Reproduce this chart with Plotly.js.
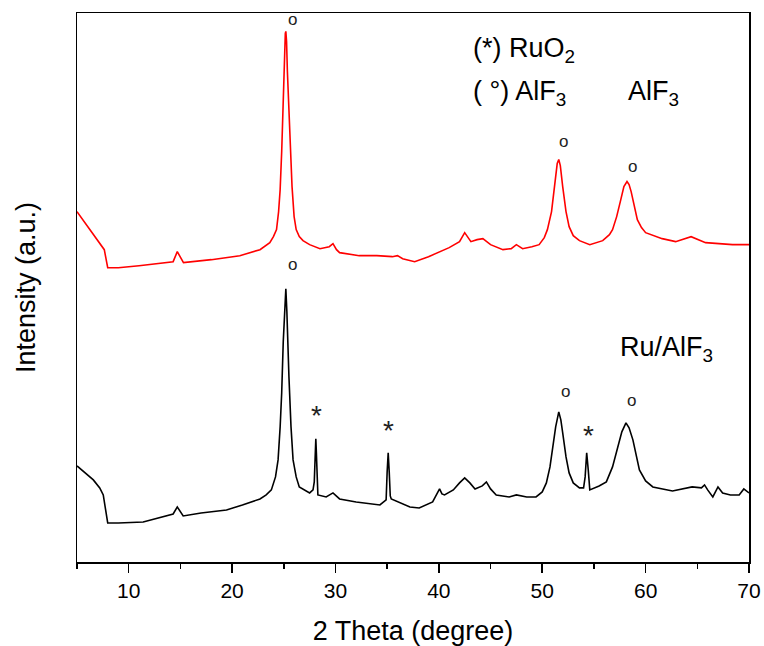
<!DOCTYPE html>
<html>
<head>
<meta charset="utf-8">
<script src="https://cdn.plot.ly/plotly-3.0.1.min.js"></script>
<style>html,body{margin:0;padding:0;background:#fff;}#chart{width:764px;height:646px;}</style>
</head>
<body>
<div id="chart"></div>
<script>
// 2θ (degree) and intensity (a.u.)
const alf3X = [5.0,6.0,7.0,7.64,7.97,9.0,11.0,13.0,14.3,14.7,15.3,18.0,20.75,22.7,23.65,24.0,24.3,24.5,24.65,24.8,24.93,25.05,25.15,25.2,25.27,25.35,25.45,25.6,25.8,26.0,26.2,26.5,26.86,27.5,28.5,29.4,29.76,30.1,30.4,32.3,34.0,35.5,36.0,36.5,37.66,39.0,41.0,42.0,42.5,43.1,43.7,44.26,45.0,46.2,47.0,47.5,48.1,49.0,49.7,50.2,50.5,50.9,51.2,51.45,51.6,51.75,51.98,52.3,52.6,53.0,53.6,54.6,55.85,56.5,56.8,57.2,57.6,57.9,58.2,58.4,58.6,58.9,59.2,59.6,60.0,61.6,62.9,64.4,65.8,68.4,70.0];
const alf3Y = [350,336,321,312,294,294,296,298,300,310,299,302,306,312,319,325,332,350,372,410,462,505,528,530,520,490,462,415,375,345,332,325,321,317,313,315,318,312,309,306,306,305,306,303,300,305,314,320,329,320,322,323,317,312,313,317,313,315,317,324,332,350,375,398,402,396,375,350,335,326,321,317,321,327,332,345,362,375,380,377,370,355,342,334,329,323,320,325,319,317,317];

const ruX = [5.0,5.8,6.58,7.2,7.54,7.97,9.0,11.4,14.3,14.7,15.27,17.0,19.46,21.0,22.7,23.3,23.8,24.2,24.45,24.65,24.8,24.95,25.1,25.2,25.3,25.4,25.5,25.7,25.9,26.2,26.5,27.5,27.83,27.95,28.05,28.1,28.15,28.22,28.3,29.1,29.76,30.4,32.0,34.3,34.9,35.0,35.1,35.2,35.3,35.4,37.2,38.1,39.4,40.07,40.3,40.55,41.4,42.0,42.5,43.0,43.5,44.2,44.6,45.0,45.55,46.8,47.5,48.5,49.4,50.0,50.4,50.75,51.0,51.3,51.6,51.8,51.98,52.3,52.6,53.0,53.6,54.0,54.15,54.3,54.45,54.6,55.5,56.2,56.8,57.3,57.7,58.1,58.4,58.77,59.1,59.4,60.0,60.7,62.6,64.5,65.4,65.7,66.0,66.5,67.0,67.45,68.2,69.05,69.5,70.0];
const ruY = [96,89,82,74,67,39,39,40,48,55,46,49,52,57,63,67,72,85,102,135,169,220,262,273,250,215,185,135,102,85,75,69,72,80,112,123,110,80,67,65,69,63,60,57,62,90,109,90,66,63,55,54,60,73,68,67,72,79,84,79,73,76,80,73,67,65,67,65,65,70,79,95,112,135,150,142,129,105,89,79,74,74,85,109,92,72,76,80,95,115,130,139,134,122,105,92,81,75,71,75,74,77,72,65,75,69,67,67,73,69];

// phase markers: circles = AlF3, stars = RuO2
const circleX = [25.8, 25.8, 52.1, 58.7, 52.25, 58.65];
const circleY = [541, 296, 419, 394, 169, 160];
const starX = [28.15, 35.1, 54.47];
const starY = [152, 137, 132];

const tickVals = [10,20,30,40,50,60,70];
const tickText = ['10','20','30','40','50','60','70'];

const FONT = 'Liberation Sans, Arial, sans-serif';

const traces = [
  {x: alf3X, y: alf3Y, type: 'scatter', mode: 'lines', line: {color: '#ff0000', width: 1.6}, name: 'AlF3', hoverinfo: 'x+y'},
  {x: ruX, y: ruY, type: 'scatter', mode: 'lines', line: {color: '#000000', width: 1.6}, name: 'Ru/AlF3', hoverinfo: 'x+y'}
];

const annotations = [];
circleX.forEach((x, i) => annotations.push({x: x, y: circleY[i], xref: 'x', yref: 'y', text: 'o', showarrow: false,
  font: {family: FONT, size: 17, color: '#222'}, xanchor: 'center', yanchor: 'middle', yshift: 1}));
starX.forEach((x, i) => annotations.push({x: x, y: starY[i], xref: 'x', yref: 'y', text: '*', showarrow: false,
  font: {family: FONT, size: 28, color: '#222'}, xanchor: 'center', yanchor: 'middle', yshift: -6}));

annotations.push({x: 43.07, y: 515, xref: 'x', yref: 'y', text: '(*) RuO<sub>2</sub>', showarrow: false,
  font: {family: FONT, size: 27, color: '#000'}, xanchor: 'left', yanchor: 'middle', yshift: -4});
annotations.push({x: 43.07, y: 472, xref: 'x', yref: 'y', text: '( °) AlF<sub>3</sub>', showarrow: false,
  font: {family: FONT, size: 27, color: '#000'}, xanchor: 'left', yanchor: 'middle', yshift: -4});
annotations.push({x: 58.14, y: 472, xref: 'x', yref: 'y', text: 'AlF<sub>3</sub>', showarrow: false,
  font: {family: FONT, size: 27, color: '#000'}, xanchor: 'left', yanchor: 'middle', yshift: -4});
annotations.push({x: 57.3, y: 217, xref: 'x', yref: 'y', text: 'Ru/AlF<sub>3</sub>', showarrow: false,
  font: {family: FONT, size: 27, color: '#000'}, xanchor: 'left', yanchor: 'middle', yshift: -4});

const layout = {
  width: 764, height: 646,
  margin: {l: 77, r: 15, t: 13, b: 84},
  paper_bgcolor: '#fff', plot_bgcolor: '#fff',
  showlegend: false,
  font: {family: FONT, color: '#000'},
  xaxis: {
    range: [5, 70], tickvals: tickVals, ticktext: tickText,
    ticks: 'outside', ticklen: 9, tickwidth: 1.5, tickcolor: '#000',
    minor: {dtick: 5, ticks: 'outside', ticklen: 5, tickwidth: 1.5, tickcolor: '#000'},
    showline: true, linecolor: '#000', linewidth: 1.5, mirror: true,
    showgrid: false, zeroline: false,
    tickfont: {family: FONT, size: 21, color: '#000'},
    title: {text: '2 Theta (degree)', font: {family: FONT, size: 27, color: '#000'}, standoff: 20}
  },
  yaxis: {
    range: [0, 548.4], showticklabels: false, ticks: '',
    showline: true, linecolor: '#000', linewidth: 1.5, mirror: true,
    showgrid: false, zeroline: false,
    title: {text: 'Intensity (a.u.)', font: {family: FONT, size: 27, color: '#000'}, standoff: 32}
  },
  annotations: annotations
};

Plotly.newPlot('chart', traces, layout, {displayModeBar: false, staticPlot: true});
</script>
</body>
</html>
